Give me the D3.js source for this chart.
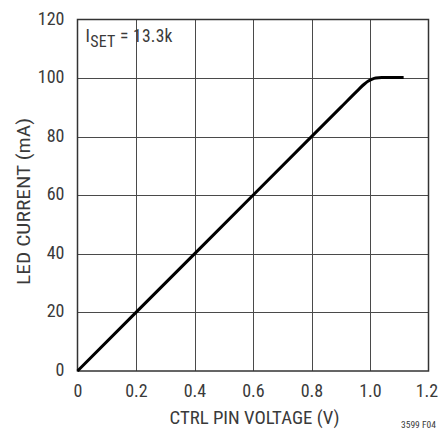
<!DOCTYPE html>
<html>
<head>
<meta charset="utf-8">
<script src="https://cdn.jsdelivr.net/npm/d3@7/dist/d3.min.js"></script>
<style>
  html, body { margin: 0; padding: 0; background: #fff; }
  svg text { font-family: "Liberation Sans Narrow", "Roboto Condensed", "Liberation Sans", Arial, sans-serif; fill: #3a3a3a; }
</style>
</head>
<body>
<svg id="chart" width="442" height="429"></svg>
<script>
// LED current vs CTRL pin voltage (ISET = 13.3k)
const ctrlVoltage = [0, 0.2, 0.4, 0.6, 0.8, 0.9, 0.96, 0.98, 0.99, 1.0, 1.01, 1.02, 1.04, 1.07, 1.115];
const ledCurrent  = [0, 20, 40, 60, 80, 90, 96, 97.9, 98.7, 99.3, 99.75, 100.0, 100.2, 100.2, 100.2];
const xTicks = [0, 0.2, 0.4, 0.6, 0.8, 1.0, 1.2];
const yTicks = [0, 20, 40, 60, 80, 100, 120];
const xTickLabels = ["0", "0.2", "0.4", "0.6", "0.8", "1.0", "1.2"];

const svg = d3.select("#chart");
const plot = { left: 77.5, right: 428.5, top: 19.5, bottom: 371 };

const x = d3.scaleLinear().domain([0, 1.2]).range([plot.left, plot.right]);
const y = d3.scaleLinear().domain([0, 120]).range([plot.bottom, plot.top]);

// grid
const grid = svg.append("g").attr("stroke", "#4a4a4a").attr("stroke-width", 1);
grid.selectAll("line.v").data(xTicks.slice(1, -1)).enter().append("line")
  .attr("x1", d => Math.round(x(d)) + 0.5).attr("x2", d => Math.round(x(d)) + 0.5)
  .attr("y1", plot.top).attr("y2", plot.bottom);
grid.selectAll("line.h").data(yTicks.slice(1, -1)).enter().append("line")
  .attr("y1", d => Math.round(y(d)) + 0.5).attr("y2", d => Math.round(y(d)) + 0.5)
  .attr("x1", plot.left).attr("x2", plot.right);

// frame
svg.append("rect").attr("x", plot.left).attr("y", plot.top)
  .attr("width", plot.right - plot.left).attr("height", plot.bottom - plot.top)
  .attr("fill", "none").attr("stroke", "#333").attr("stroke-width", 1.5);

// axes (labels only)
const xAxis = svg.append("g").attr("transform", `translate(0,${plot.bottom})`)
  .call(d3.axisBottom(x).tickValues(xTicks).tickFormat((d, i) => xTickLabels[i]).tickSize(0).tickPadding(13));
xAxis.select(".domain").remove();
xAxis.selectAll("text").attr("font-size", 18).attr("font-family", null)
  .attr("dx", d => d === 1.2 ? -2 : 0);

const yAxis = svg.append("g").attr("transform", `translate(${plot.left},0)`)
  .call(d3.axisLeft(y).tickValues(yTicks).tickFormat(d3.format("d")).tickSize(0).tickPadding(13));
yAxis.select(".domain").remove();
yAxis.selectAll("text").attr("font-size", 18).attr("font-family", null).attr("dy", 4.5);

// curve
const line = d3.line().x((d, i) => x(ctrlVoltage[i])).y(d => y(d)).curve(d3.curveMonotoneX);
svg.append("path").datum(ledCurrent).attr("d", line)
  .attr("fill", "none").attr("stroke", "#000").attr("stroke-width", 3)
  .attr("stroke-linejoin", "round");

// titles
svg.append("text").attr("x", 169.5).attr("y", 423.5)
  .attr("font-size", 18.5).attr("textLength", 170).attr("lengthAdjust", "spacingAndGlyphs")
  .text("CTRL PIN VOLTAGE (V)");
svg.append("text").attr("transform", "translate(30,285) rotate(-90)")
  .attr("font-size", 18.5).attr("textLength", 167).attr("lengthAdjust", "spacingAndGlyphs")
  .text("LED CURRENT (mA)");

// annotation
const ann = svg.append("text").attr("x", 85.5).attr("y", 42.3).attr("font-size", 17.5)
  .attr("textLength", 87).attr("lengthAdjust", "spacing");
ann.append("tspan").text("I");
ann.append("tspan").attr("font-size", 16).attr("dy", 4.4).text("SET");
ann.append("tspan").attr("dy", -4.4).text(" = 13.3k");

svg.append("text").attr("x", 401).attr("y", 428).attr("font-size", 9.5).text("3599 F04");
</script>
</body>
</html>
